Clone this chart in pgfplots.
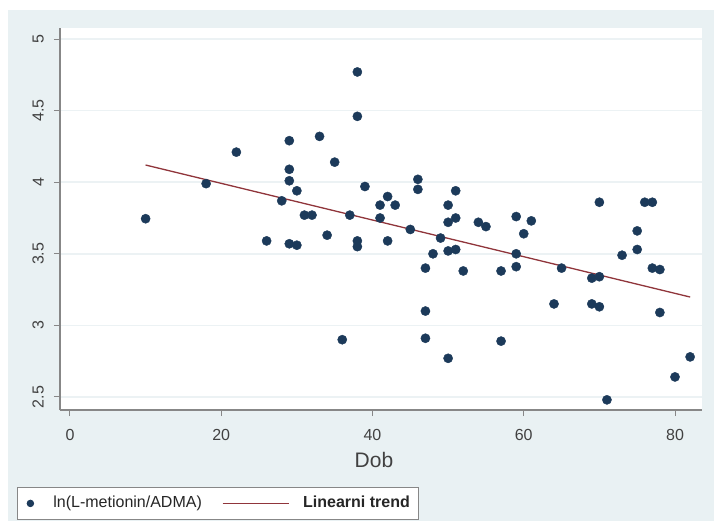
\documentclass[border=0pt]{standalone}
\usepackage{fontspec}
\setmainfont{Liberation Sans}
\usepackage{pgfplots}
\pgfplotsset{compat=1.18}
\usepackage{pgfplotstable}

\definecolor{bgcol}{RGB}{233,241,243}
\definecolor{gridcol}{RGB}{236,242,244}
\definecolor{navy}{RGB}{28,58,90}
\definecolor{maroon}{RGB}{144,53,59}
\definecolor{axgray}{RGB}{135,135,135}
\definecolor{txtgray}{RGB}{65,65,65}

\pgfplotsset{
  scatlegend/.style={legend image code/.code={
    \path[draw=none, fill=none] (0bp,0bp) (13bp,0bp);
    \path[##1, draw=none, only marks, mark size=3.3bp] plot coordinates {(4bp,0bp)};}},
  linelegend/.style={legend image code/.code={\draw[##1] (0bp,0bp) -- (66bp,0bp);}},
}

% age (Dob) vs ln(L-metionin/ADMA)
\pgfplotstableread{
x y
10 3.745
18 3.99
22 4.21
26 3.59
28 3.87
29 4.29
29 4.09
29 4.01
30 3.94
29 3.57
30 3.56
31 3.77
32 3.77
33 4.32
34 3.63
35 4.14
36 2.90
37 3.77
38 4.77
38 4.46
38 3.59
38 3.55
39 3.97
41 3.84
42 3.90
41 3.75
43 3.84
42 3.59
45 3.67
46 4.02
46 3.95
47 3.40
47 3.10
47 2.91
48 3.50
49 3.61
50 3.84
50 3.72
50 3.52
51 3.94
51 3.75
51 3.53
52 3.38
50 2.77
54 3.72
55 3.69
57 3.38
57 2.89
59 3.76
59 3.50
59 3.41
60 3.64
61 3.73
64 3.15
65 3.40
69 3.33
70 3.34
69 3.15
70 3.13
70 3.86
71 2.48
73 3.49
75 3.66
75 3.53
76 3.86
77 3.86
77 3.40
78 3.39
78 3.09
80 2.64
82 2.78
}\scatterdata

\pgfplotstableread{
x y
10 4.12
82 3.198
}\trenddata

\begin{document}
\begin{tikzpicture}
\path[use as bounding box] (-60bp,-111bp) rectangle (654bp,410bp);
\fill[bgcol] (-52bp,-111bp) rectangle (654bp,400bp);
\begin{axis}[
  scale only axis,
  width=642bp, height=382bp,
  xmin=-1.32, xmax=83.57,
  ymin=2.409, ymax=5.077,
  axis lines*=left,
  axis line style={axgray, line width=1.2bp},
  axis background/.style={fill=white},
  xtick={0,20,40,60,80},
  ytick={2.5,3,3.5,4,4.5,5},
  tick align=outside,
  major tick length=6bp,
  tick style={axgray, line width=1bp},
  ymajorgrids,
  major grid style={gridcol, line width=1.5bp},
  /pgf/number format/assume math mode=true,
  tick label style={font=\fontsize{16bp}{19bp}\selectfont, text=txtgray},
  xticklabel style={anchor=north, inner sep=0pt, yshift=-13bp},
  yticklabel style={xshift=-10bp, rotate=90, anchor=south, inner sep=0pt},
  xlabel={Dob},
  xlabel style={font=\fontsize{21bp}{25bp}\selectfont, text=txtgray,
    at={(axis description cs:0.489,0)}, anchor=center, yshift=-50bp},
  legend columns=2,
  legend cell align=left,
  legend style={at={(axis description cs:-0.06698,-0.2016)}, anchor=north west,
    draw=axgray, line width=0.8bp, fill=white, inner xsep=9bp, inner ysep=8.5bp,
    font=\fontsize{16bp}{19bp}\selectfont, text=black!85,
    nodes={inner sep=0pt, text height=11.5bp, text depth=3.5bp},
    /tikz/every odd column/.append style={column sep=14bp},
    /tikz/every even column/.append style={column sep=20bp}},
]
\addplot[only marks, mark=*, mark size=4.6bp, color=navy, scatlegend]
  table[x=x, y=y] {\scatterdata};
\addlegendentry{ln(L-metionin/ADMA)}
\addplot[color=maroon, line width=1.3bp, no marks, linelegend]
  table[x=x, y=y] {\trenddata};
\addlegendentry{\textbf{Linearni trend}}
\end{axis}
\end{tikzpicture}
\end{document}
